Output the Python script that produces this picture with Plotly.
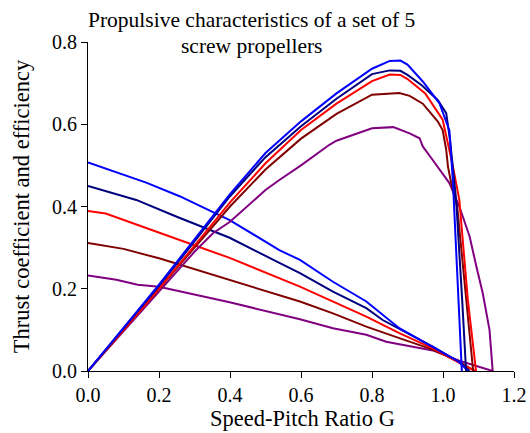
import plotly.graph_objects as go

# Speed-pitch ratio G and values for each of the 5 propellers
colors = ["#0000FF", "#00007F", "#FF0000", "#800000", "#800080"]

# Thrust coefficient curves
g_thrust_1 = [0, 0.1, 0.164, 0.258, 0.399, 0.539, 0.597, 0.69, 0.784, 0.877, 0.971, 1.046, 1.07]
thrust_1 = [0.507, 0.478, 0.458, 0.425, 0.367, 0.294, 0.270, 0.217, 0.169, 0.104, 0.059, 0.022, 0.0]
g_thrust_2 = [0, 0.136, 0.25, 0.399, 0.539, 0.597, 0.69, 0.784, 0.83, 0.971, 1.046, 1.075]
thrust_2 = [0.450, 0.416, 0.375, 0.324, 0.263, 0.238, 0.193, 0.153, 0.124, 0.059, 0.022, 0.0]
g_thrust_3 = [0, 0.05, 0.211, 0.399, 0.597, 0.69, 0.784, 0.877, 0.971, 1.046, 1.09]
thrust_3 = [0.389, 0.383, 0.333, 0.275, 0.205, 0.169, 0.132, 0.092, 0.055, 0.020, 0.0]
g_thrust_4 = [0, 0.1, 0.2, 0.399, 0.597, 0.69, 0.784, 0.877, 0.971, 1.046, 1.09]
thrust_4 = [0.311, 0.297, 0.274, 0.222, 0.169, 0.140, 0.108, 0.080, 0.052, 0.022, 0.0]
g_thrust_5 = [0, 0.08, 0.14, 0.2, 0.399, 0.597, 0.69, 0.784, 0.84, 0.971, 1.046, 1.14]
thrust_5 = [0.232, 0.222, 0.210, 0.205, 0.167, 0.126, 0.104, 0.088, 0.071, 0.050, 0.025, 0.0]

# Efficiency curves
g_eff_1 = [0, 0.1, 0.2, 0.3, 0.4, 0.5, 0.6, 0.7, 0.75, 0.8, 0.85, 0.88, 0.9, 0.943, 0.99, 1.018, 1.028, 1.035, 1.045, 1.053]
eff_1 = [0, 0.105, 0.21, 0.32, 0.43, 0.53, 0.607, 0.675, 0.705, 0.735, 0.754, 0.755, 0.745, 0.704, 0.651, 0.585, 0.46, 0.33, 0.16, 0.0]
g_eff_2 = [0, 0.1, 0.2, 0.3, 0.4, 0.5, 0.6, 0.7, 0.8, 0.85, 0.88, 0.9, 0.94, 0.985, 1.009, 1.02, 1.037, 1.054, 1.065]
eff_2 = [0, 0.103, 0.207, 0.315, 0.425, 0.52, 0.595, 0.662, 0.722, 0.731, 0.73, 0.72, 0.695, 0.659, 0.627, 0.56, 0.416, 0.173, 0.0]
g_eff_3 = [0, 0.1, 0.2, 0.3, 0.4, 0.5, 0.6, 0.7, 0.8, 0.85, 0.88, 0.9, 0.95, 0.999, 1.028, 1.046, 1.07, 1.093]
eff_3 = [0, 0.1, 0.2, 0.305, 0.41, 0.505, 0.586, 0.65, 0.705, 0.721, 0.72, 0.71, 0.675, 0.611, 0.497, 0.416, 0.173, 0.0]
g_eff_4 = [0, 0.1, 0.2, 0.3, 0.4, 0.5, 0.6, 0.7, 0.8, 0.877, 0.906, 0.943, 0.985, 0.999, 1.009, 1.014, 1.023, 1.04, 1.065, 1.085]
eff_4 = [0, 0.1, 0.2, 0.3, 0.4, 0.49, 0.565, 0.625, 0.672, 0.676, 0.669, 0.65, 0.607, 0.586, 0.538, 0.497, 0.457, 0.40, 0.17, 0.0]
g_eff_5 = [0, 0.1, 0.2, 0.3, 0.352, 0.4, 0.5, 0.54, 0.6, 0.68, 0.7, 0.8, 0.86, 0.906, 0.934, 0.943, 0.971, 1.018, 1.046, 1.075, 1.094, 1.112, 1.131, 1.14]
eff_5 = [0, 0.097, 0.195, 0.29, 0.335, 0.363, 0.44, 0.465, 0.50, 0.55, 0.56, 0.59, 0.593, 0.578, 0.566, 0.546, 0.513, 0.457, 0.40, 0.327, 0.254, 0.189, 0.10, 0.0]

thrust_g = [g_thrust_1, g_thrust_2, g_thrust_3, g_thrust_4, g_thrust_5]
thrust_v = [thrust_1, thrust_2, thrust_3, thrust_4, thrust_5]
eff_g = [g_eff_1, g_eff_2, g_eff_3, g_eff_4, g_eff_5]
eff_v = [eff_1, eff_2, eff_3, eff_4, eff_5]

x_ticks = [0, 0.2, 0.4, 0.6, 0.8, 1.0, 1.2]
y_ticks = [0, 0.2, 0.4, 0.6, 0.8]
title_lines = ["Propulsive characteristics of a set of 5", "screw propellers"]
x_title = "Speed-Pitch Ratio G"
y_title = "Thrust coefficient and efficiency"

FONT = "Liberation Serif"

fig = go.Figure()
order = [4, 3, 2, 1, 0]
for i in order:
    fig.add_trace(go.Scatter(x=thrust_g[i], y=thrust_v[i], mode="lines",
                             line=dict(color=colors[i], width=2), showlegend=False))
for i in order:
    fig.add_trace(go.Scatter(x=eff_g[i], y=eff_v[i], mode="lines",
                             line=dict(color=colors[i], width=2), showlegend=False))

# plot area: left 88, top 42, height 329, width 426
for txt, yc in zip(title_lines, [20.5, 46]):
    fig.add_annotation(text=txt, xref="paper", yref="paper",
                       x=(251 - 88) / 426, y=1 + (42 - yc) / 329,
                       xanchor="center", yanchor="middle", showarrow=False,
                       font=dict(family=FONT, size=21.5, color="black"))

fig.add_annotation(text=x_title, xref="paper", yref="paper",
                   x=(302.5 - 88) / 426, y=(371 - 418) / 329,
                   xanchor="center", yanchor="middle", showarrow=False,
                   font=dict(family=FONT, size=22.5, color="black"))

fig.update_layout(
    width=530, height=433,
    margin=dict(l=88, r=16, t=42, b=62, autoexpand=False),
    paper_bgcolor="white", plot_bgcolor="white",
    font=dict(family=FONT, size=20, color="black"),
    xaxis=dict(range=[0, 1.2], tickvals=x_ticks, tickformat=".1f", automargin=False,
               showline=True, linecolor="black", linewidth=1,
               ticks="outside", ticklen=6, tickcolor="black",
               tickfont=dict(family=FONT, size=20, color="black"),
               showgrid=False, zeroline=False),
    yaxis=dict(range=[0, 0.8], tickvals=y_ticks, tickformat=".1f", automargin=False,
               showline=True, linecolor="black", linewidth=1,
               ticks="outside", ticklen=6, tickcolor="black",
               tickfont=dict(family=FONT, size=20, color="black"),
               showgrid=False, zeroline=False,
               title=dict(text=y_title, standoff=16,
                          font=dict(family=FONT, size=22.5, color="black"))),
)

fig.write_html("out.html")
